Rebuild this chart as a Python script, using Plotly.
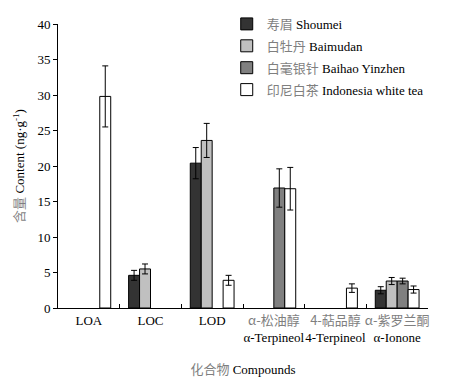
import plotly.graph_objects as go

G = "#7f7f7f"
def cn(s):
    return f'<span style="font-family:\'Noto Sans CJK SC\';color:{G}">{s}</span>'

categories = ["LOA", "LOC", "LOD",
              cn("α-松油醇") + "<br>α-Terpineol",
              cn("4-萜品醇") + "<br>4-Terpineol",
              cn("α-紫罗兰酮") + "<br>α-Ionone"]

series_names = [cn("寿眉") + " Shoumei", cn("白牡丹") + " Baimudan",
                cn("白毫银针") + " Baihao Yinzhen", cn("印尼白茶") + " Indonesia white tea"]
series_colors = ["#333333", "#c0c0c0", "#808080", "#ffffff"]

shoumei = [None, 4.6, 20.4, None, None, 2.5]
shoumei_err = [None, 0.7, 2.2, None, None, 0.5]
baimudan = [None, 5.5, 23.6, None, None, 3.8]
baimudan_err = [None, 0.7, 2.4, None, None, 0.5]
yinzhen = [None, None, None, 16.9, None, 3.8]
yinzhen_err = [None, None, None, 2.7, None, 0.4]
indonesia = [29.8, None, 3.9, 16.8, 2.8, 2.6]
indonesia_err = [4.3, None, 0.7, 3.0, 0.6, 0.5]

values = [shoumei, baimudan, yinzhen, indonesia]
errors = [shoumei_err, baimudan_err, yinzhen_err, indonesia_err]

fig = go.Figure()
for i, (name, col, v, e) in enumerate(zip(series_names, series_colors, values, errors)):
    fig.add_trace(go.Bar(
        x=categories, y=v, name=name, legendgroup=f"g{i}",
        marker=dict(color=col, line=dict(color="black", width=1)),
        error_y=dict(type="data", array=e, visible=True, color="black",
                     thickness=1, width=3),
    ))

FAM = "Times New Roman, Liberation Serif, serif"
font = dict(family=FAM, size=13, color="black")
fig.update_layout(
    width=460, height=388,
    margin=dict(l=58, r=32, t=24, b=80, autoexpand=False),
    paper_bgcolor="white", plot_bgcolor="white",
    barmode="group", bargap=0.29, bargroupgap=0,
    font=font,
    showlegend=True,
    legend=dict(x=0.456, y=1.053, xanchor="left", yanchor="top",
                bgcolor="rgba(0,0,0,0)", font=dict(family=FAM, size=13),
                traceorder="grouped", tracegroupgap=2),
    xaxis=dict(showline=True, linecolor="black", linewidth=1,
               ticks="inside", tickson="boundaries", ticklen=4, tickcolor="black",
               showgrid=False, tickfont=dict(family=FAM, size=13), tickangle=0,
               automargin=False,
               title=dict(text=cn("化合物") + " Compounds", font=dict(family=FAM, size=13), standoff=21)),
    yaxis=dict(range=[0, 40], dtick=5, showline=True, linecolor="black", linewidth=1,
               ticks="outside", ticklen=4, tickcolor="black", showgrid=False,
               zeroline=False, tickfont=dict(family=FAM, size=13), automargin=False,
               title=dict(text=cn("含量") + " Content (ng·g<sup>-1</sup>)",
                          font=dict(family=FAM, size=13), standoff=9)),
)

fig.write_html("out.html", config={"displayModeBar": False},
               post_script="document.body.style.margin='0';")
